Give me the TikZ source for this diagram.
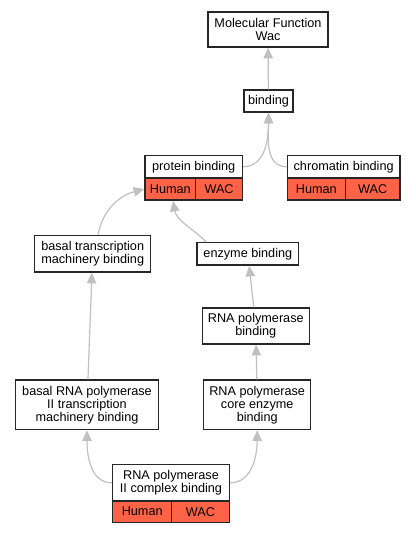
\documentclass[tikz,border=0pt]{standalone}
\usepackage{fontspec}
\setmainfont{Liberation Sans}
\usetikzlibrary{arrows.meta}
\definecolor{edgegray}{HTML}{C0C0C0}
\definecolor{annot}{HTML}{FF6347}
\tikzstyle{term}=[draw=black!85,line width=1.05pt,fill=white,inner sep=0pt,align=center,font=\fontsize{9.5}{9.75}\selectfont]
\tikzstyle{cell}=[term,fill=annot]
\tikzstyle{edge}=[draw,edgegray,line width=0.9pt,-{Triangle[length=8pt,width=7pt]}]

\begin{document}
\begin{tikzpicture}[x=0.75pt,y=-0.75pt]
    \useasboundingbox (0,0) rectangle (416,533);
    % First we draw the GO terms
    \foreach \pos/\name/\w/\h/\txt in {{(268,29.5)/mf/120/35/{Molecular Function\\Wac}},
        {(268.5,101)/bind/49/22/{binding}},
        {(193.75,166.75)/pb/97.5/22.5/{protein binding}},
        {(343.65,166.75)/chrom/112.7/22.5/{chromatin binding}},
        {(92.7,253.85)/btm/116/36.3/{basal transcription\\machinery binding}},
        {(247.85,253.85)/enz/101.7/22.3/{enzyme binding}},
        {(255.8,326)/rpb/107/36/{RNA polymerase\\binding}},
        {(87,404.75)/brna/142.6/49.5/{basal RNA polymerase\\II transcription\\machinery binding}},
        {(257.2,404.75)/core/107/49.5/{RNA polymerase\\core enzyme\\binding}},
        {(171,482.85)/cx/116.6/36.3/{RNA polymerase\\II complex binding}}}
        \node[term,minimum width=\w*0.75pt,minimum height=\h*0.75pt] (\name) at \pos {\txt};
    % annotation cells
    \foreach \pos/\name/\w/\h/\txt in {{(170.35,189)/pbH/50.7/22/Human}, {(219.1,189)/pbW/46.8/22/WAC},
        {(316.3,189)/chromH/58/22/Human}, {(372.65,189)/chromW/54.7/22/WAC},
        {(142.2,511.65)/cxH/59/21.3/Human}, {(200.5,511.65)/cxW/57.6/21.3/WAC}}
        \node[cell,minimum width=\w*0.75pt,minimum height=\h*0.75pt] (\name) at \pos {\txt};
    % Connect terms with edges
    \path[edge] (bind) -- (mf);
    \path[edge] (pb.east) to[out=0,in=-90] (bind.south);
    \path[edge] (chrom.west) to[out=180,in=-90] (bind.south);
    \path[edge] ([xshift=4pt]btm.north) to[out=80,in=195] (pbH.west);
    \path[edge] ([xshift=7.5pt]enz.north west) to[out=135,in=-80] ([xshift=2pt]pbH.south);
    \path[edge] (rpb) -- (enz);
    \path[edge] (core) -- (rpb);
    \path[edge] (brna) -- (btm);
    \path[edge] (cx.west) to[out=180,in=-90] (brna.south);
    \path[edge] (cx.east) to[out=0,in=-90] (core.south);
\end{tikzpicture}
\end{document}
